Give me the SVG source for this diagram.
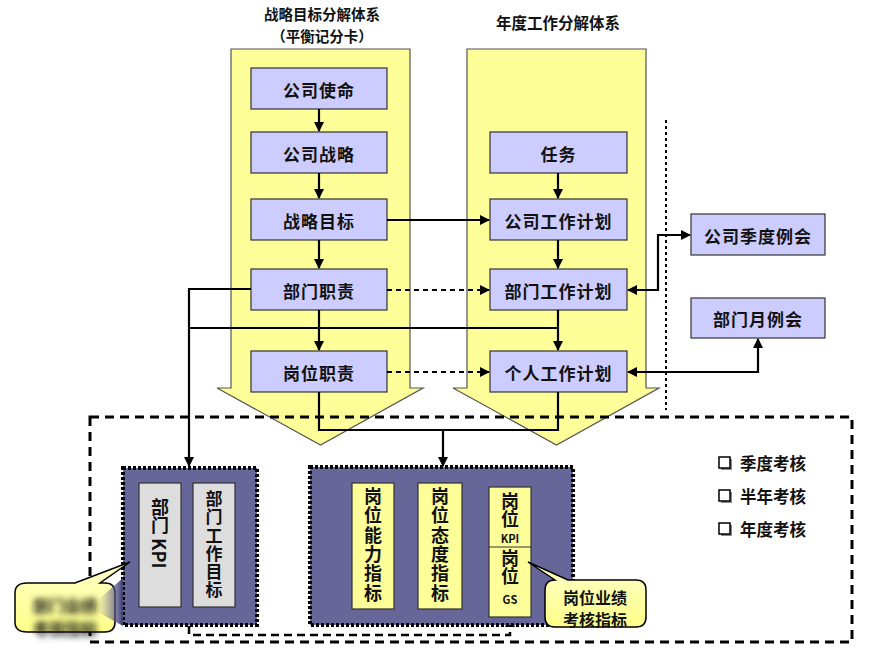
<svg xmlns="http://www.w3.org/2000/svg" width="870" height="663" viewBox="0 0 870 663">
<defs>
<style>
.t{font-family:"Noto Sans CJK SC","Liberation Serif",serif;font-weight:bold;fill:#111;}
.bx{font-size:17px;letter-spacing:1px;text-anchor:middle;dominant-baseline:central;}
.vt{writing-mode:vertical-rl;text-anchor:start;}
.lav{fill:#CCCCFF;stroke:#333;stroke-width:1.2;}
.big{fill:#FFFF99;stroke:#555;stroke-width:1.2;}
.ln{fill:none;stroke:#000;stroke-width:2.2;}
.dl{fill:none;stroke:#000;stroke-width:2.2;stroke-dasharray:5,4;}
.dark{fill:#666699;stroke:#000;stroke-width:4;stroke-dasharray:3,2;}
.gray{fill:#DDDDDD;stroke:#333;stroke-width:1.2;}
.yel{fill:#FFFF99;stroke:#333;stroke-width:1.2;}
.call{fill:url(#cg);stroke:#000;stroke-width:1.5;}
</style>
<marker id="ah" viewBox="0 0 10 10" refX="9" refY="5" markerWidth="10" markerHeight="10" markerUnits="userSpaceOnUse" orient="auto-start-reverse">
<path d="M0,0 L10,5 L0,10 z" fill="#000"/>
</marker>
<linearGradient id="cg" x1="0" y1="0" x2="0" y2="1">
<stop offset="0" stop-color="#FFFFCC"/>
<stop offset="1" stop-color="#FFFF88"/>
</linearGradient>
<linearGradient id="wg" x1="0" y1="0" x2="1" y2="0">
<stop offset="0" stop-color="#666699" stop-opacity="0"/>
<stop offset="1" stop-color="#444477"/>
</linearGradient>
<filter id="blur" x="-20%" y="-50%" width="140%" height="200%">
<feGaussianBlur stdDeviation="3"/>
</filter>
</defs>
<rect width="870" height="663" fill="#fff"/>

<g id="titles">
<text class="t" x="322" y="20" font-size="14.5" text-anchor="middle">战略目标分解体系</text>
<text class="t" x="322" y="42" font-size="14.5" text-anchor="middle">（平衡记分卡）</text>
<text class="t" x="558" y="29" font-size="15.5" text-anchor="middle">年度工作分解体系</text>
</g>

<g id="arrow-strategy">
<path class="big" d="M231,49 H410 V388 H423 L320.5,445 L217,388 H231 Z"/>
</g>
<g id="arrow-annual">
<path class="big" d="M467,49 H646 V388 H659 L556.5,445 L453,388 H467 Z"/>
</g>

<g id="separator">
<line x1="666" y1="120" x2="666" y2="410" stroke="#000" stroke-width="2" stroke-dasharray="3,3"/>
</g>

<g id="outer-frame">
<rect x="90" y="417" width="762" height="225" fill="none" stroke="#000" stroke-width="3" stroke-dasharray="9,6"/>
</g>

<g id="n-mission"><rect class="lav" x="251" y="68" width="136" height="41"/><text class="t bx" x="319" y="89">公司使命</text></g>
<g id="n-strategy"><rect class="lav" x="251" y="132" width="136" height="41"/><text class="t bx" x="319" y="153">公司战略</text></g>
<g id="n-goal"><rect class="lav" x="251" y="199" width="136" height="41"/><text class="t bx" x="319" y="220">战略目标</text></g>
<g id="n-deptduty"><rect class="lav" x="251" y="269" width="136" height="41"/><text class="t bx" x="319" y="290">部门职责</text></g>
<g id="n-postduty"><rect class="lav" x="251" y="351" width="136" height="41"/><text class="t bx" x="319" y="372">岗位职责</text></g>

<g id="n-task"><rect class="lav" x="490" y="132" width="137" height="41"/><text class="t bx" x="558.5" y="153">任务</text></g>
<g id="n-complan"><rect class="lav" x="490" y="199" width="137" height="41"/><text class="t bx" x="558.5" y="220">公司工作计划</text></g>
<g id="n-deptplan"><rect class="lav" x="490" y="269" width="137" height="41"/><text class="t bx" x="558.5" y="290">部门工作计划</text></g>
<g id="n-personplan"><rect class="lav" x="490" y="351" width="137" height="41"/><text class="t bx" x="558.5" y="372">个人工作计划</text></g>

<g id="n-quarter"><rect class="lav" x="691" y="214" width="134" height="41"/><text class="t bx" x="758" y="235">公司季度例会</text></g>
<g id="n-month"><rect class="lav" x="691" y="298" width="134" height="40"/><text class="t bx" x="758" y="318">部门月例会</text></g>

<g id="connectors">
<path class="ln" d="M319,109 V131" marker-end="url(#ah)"/>
<path class="ln" d="M319,173 V198" marker-end="url(#ah)"/>
<path class="ln" d="M319,240 V268" marker-end="url(#ah)"/>
<path class="ln" d="M319,310 V350" marker-end="url(#ah)"/>
<path class="ln" d="M558,173 V198" marker-end="url(#ah)"/>
<path class="ln" d="M558,240 V268" marker-end="url(#ah)"/>
<path class="ln" d="M558,310 V350" marker-end="url(#ah)"/>
<path class="ln" d="M387,220 H489" marker-end="url(#ah)"/>
<path class="dl" d="M387,290 H489" marker-end="url(#ah)"/>
<path class="dl" d="M387,372 H489" marker-end="url(#ah)"/>
<path class="ln" d="M251,289 H189 V466" marker-end="url(#ah)"/>
<path class="ln" d="M189,328 H558"/>
<path class="ln" d="M319,392 V430 H558 V392"/>
<path class="ln" d="M443,430 V466" marker-end="url(#ah)"/>
<path class="ln" d="M628,290 H658 V235 H690" marker-start="url(#ah)" marker-end="url(#ah)"/>
<path class="ln" d="M628,372 H758 V339" marker-start="url(#ah)" marker-end="url(#ah)"/>
<path d="M189,626 V635 H510 V618" fill="none" stroke="#000" stroke-width="2.5" stroke-dasharray="8,5" marker-end="url(#ah)"/>
</g>

<g id="dept-group">
<rect class="dark" x="123" y="468" width="134" height="157"/>
<rect class="gray" x="139" y="483" width="42" height="124"/>
<rect class="gray" x="193" y="483" width="42" height="124"/>
<text class="t vt" x="160" y="498" font-size="18">部门 KPI</text>
<text class="t vt" x="214" y="490" font-size="17" letter-spacing="1.3">部门工作目标</text>
</g>

<g id="post-group">
<rect class="dark" x="310" y="467" width="263" height="158"/>
<rect class="yel" x="352" y="483" width="42" height="126"/>
<rect class="yel" x="418" y="483" width="44" height="126"/>
<rect class="yel" x="489" y="487" width="42" height="130"/>
<line x1="489" y1="547" x2="531" y2="547" stroke="#333" stroke-width="1.2"/>
<text class="t vt" x="373" y="487" font-size="18" letter-spacing="1.4">岗位能力指标</text>
<text class="t vt" x="440" y="487" font-size="18" letter-spacing="1.4">岗位态度指标</text>
<text class="t vt" x="510" y="492" font-size="18" letter-spacing="0.5">岗位</text>
<text class="t" x="510" y="538" font-size="11" text-anchor="middle" dominant-baseline="central">KPI</text>
<text class="t vt" x="510" y="549" font-size="18" letter-spacing="0.5">岗位</text>
<text class="t" x="510" y="599" font-size="11" text-anchor="middle" dominant-baseline="central">GS</text>
</g>

<g id="callout-post">
<path class="call" d="M555,580 L528,562 L568,580 H636 Q646,580 646,590 V617 Q646,627 636,627 H555 Q545,627 545,617 V590 Q545,580 555,580 Z"/>
<text class="t" x="595" y="597" font-size="16" text-anchor="middle" dominant-baseline="central">岗位业绩</text>
<text class="t" x="595" y="619" font-size="16" text-anchor="middle" dominant-baseline="central">考核指标</text>
</g>

<g id="callout-dept">
<path class="call" d="M27,583 L75,583 L130,562 L100,583 H105 Q115,583 115,593 V622 Q115,632 105,632 H27 Q15,632 15,622 V593 Q15,583 27,583 Z"/>
<polygon points="98,600 123,578 123,626 98,612" fill="url(#wg)"/>
<g filter="url(#blur)">
<text class="t" x="65" y="605" font-size="16" text-anchor="middle" dominant-baseline="central" fill="#555">部门业绩</text>
<text class="t" x="65" y="628" font-size="16" text-anchor="middle" dominant-baseline="central">考核指标</text>
</g>
</g>

<g id="legend">
<rect x="721" y="459" width="11" height="11" fill="#888"/>
<rect x="719" y="457" width="11" height="11" fill="#fff" stroke="#000" stroke-width="1.5"/>
<text class="t" x="740" y="463" font-size="16.5" dominant-baseline="central">季度考核</text>
<rect x="721" y="492" width="11" height="11" fill="#888"/>
<rect x="719" y="490" width="11" height="11" fill="#fff" stroke="#000" stroke-width="1.5"/>
<text class="t" x="740" y="496" font-size="16.5" dominant-baseline="central">半年考核</text>
<rect x="721" y="525" width="11" height="11" fill="#888"/>
<rect x="719" y="523" width="11" height="11" fill="#fff" stroke="#000" stroke-width="1.5"/>
<text class="t" x="740" y="529" font-size="16.5" dominant-baseline="central">年度考核</text>
</g>
</svg>
